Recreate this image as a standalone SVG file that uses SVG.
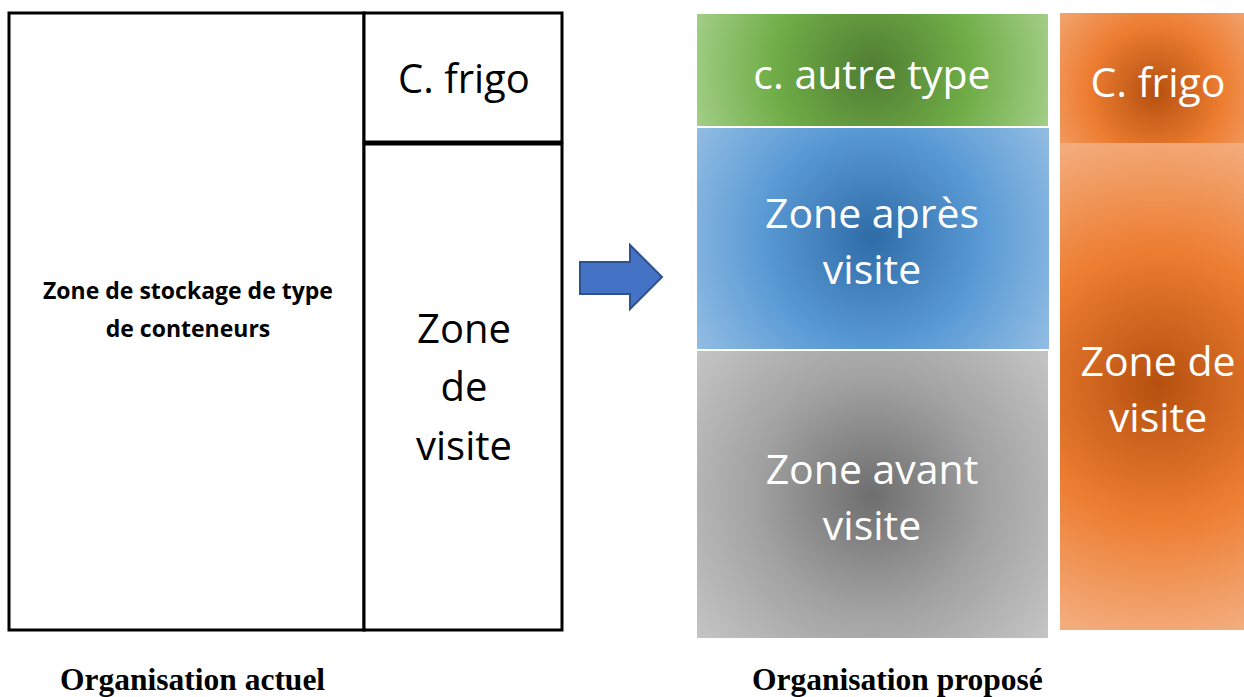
<svg xmlns="http://www.w3.org/2000/svg" width="1244" height="697" viewBox="0 0 1244 697">
<style>
.box{fill:#fff;stroke:#000;stroke-width:3}
.t{font-family:"Open Sans","Liberation Sans",sans-serif;text-anchor:middle}
.dark{fill:#000;font-size:40px}
.w{fill:#fff;font-size:41px}
.b{fill:#000;font-size:23px;font-weight:bold}
.cap{font-family:"Liberation Serif",serif;font-weight:bold;font-size:31.5px;fill:#000}
</style>
<defs>
<radialGradient id="gG" gradientUnits="userSpaceOnUse" cx="872" cy="70" r="220">
<stop offset="0" stop-color="#4f7d32"/><stop offset="0.45" stop-color="#70ad47"/><stop offset="0.85" stop-color="#a3cf88"/>
</radialGradient>
<radialGradient id="gB" gradientUnits="userSpaceOnUse" cx="872" cy="238" r="250">
<stop offset="0" stop-color="#2e6ca8"/><stop offset="0.45" stop-color="#5b9bd5"/><stop offset="0.9" stop-color="#9cc3e6"/>
</radialGradient>
<radialGradient id="gY" gradientUnits="userSpaceOnUse" cx="872" cy="495" r="260">
<stop offset="0" stop-color="#6e6e6e"/><stop offset="0.45" stop-color="#a2a2a2"/><stop offset="0.9" stop-color="#c7c7c7"/>
</radialGradient>
<radialGradient id="gO1" gradientUnits="userSpaceOnUse" cx="1155" cy="92" r="150">
<stop offset="0" stop-color="#b5500f"/><stop offset="0.45" stop-color="#ed7d31"/><stop offset="0.9" stop-color="#f3ac7c"/>
</radialGradient>
<radialGradient id="gO2" gradientUnits="userSpaceOnUse" cx="1158" cy="385" r="300">
<stop offset="0" stop-color="#b5500f"/><stop offset="0.45" stop-color="#ed7d31"/><stop offset="0.85" stop-color="#f3ac7c"/>
</radialGradient>
</defs>
<g id="left-storage">
<rect class="box" x="9" y="13" width="355" height="617"/>
<text class="t b" x="188" y="299">Zone de stockage de type</text>
<text class="t b" x="188" y="337">de conteneurs</text>
</g>
<g id="left-frigo">
<rect class="box" x="364" y="13" width="198" height="129"/>
<text class="t dark" x="464" y="93">C. frigo</text>
</g>
<g id="left-visite">
<rect class="box" x="364" y="144" width="198" height="486"/>
<text class="t dark" x="464" y="343">Zone</text>
<text class="t dark" x="464" y="401">de</text>
<text class="t dark" x="464" y="460">visite</text>
</g>
<g id="connectors">
<path d="M580 262 H630 V245 L662 277 L630 309 V294 H580 Z" fill="#4472c4" stroke="#2f528f" stroke-width="2"/>
</g>
<g id="right-autre">
<rect x="697" y="14" width="351" height="112" fill="url(#gG)"/>
<text class="t w" x="872" y="89">c. autre type</text>
</g>
<g id="right-apres">
<rect x="697" y="128" width="352" height="221" fill="url(#gB)"/>
<text class="t w" x="872" y="228">Zone après</text>
<text class="t w" x="872" y="284">visite</text>
</g>
<g id="right-avant">
<rect x="697" y="351" width="351" height="287" fill="url(#gY)"/>
<text class="t w" x="872" y="484">Zone avant</text>
<text class="t w" x="872" y="540">visite</text>
</g>
<g id="right-frigo">
<rect x="1060" y="13" width="184" height="130" fill="url(#gO1)"/>
<text class="t w" x="1158" y="97">C. frigo</text>
</g>
<g id="right-visite">
<rect x="1060" y="143" width="184" height="487" fill="url(#gO2)"/>
<text class="t w" x="1158" y="376">Zone de</text>
<text class="t w" x="1158" y="432">visite</text>
</g>
<text class="cap" x="60" y="690">Organisation actuel</text>
<text class="cap" x="752" y="690">Organisation proposé</text>
</svg>
